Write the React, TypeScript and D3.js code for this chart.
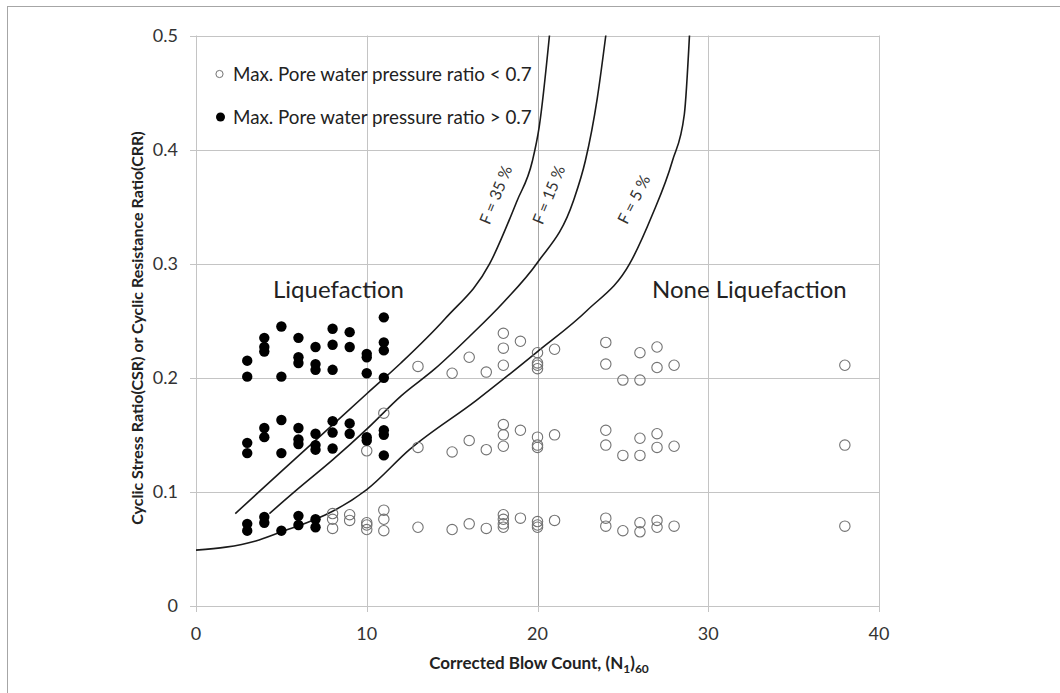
import React from "react";
import * as d3 from "d3";

// open circles: max. pore water pressure ratio < 0.7  [N, CSR]
const lowRatio: [number, number][] = [
  [13, 0.21], [15, 0.204], [16, 0.218], [17, 0.205],
  [18, 0.239], [18, 0.226], [18, 0.211], [19, 0.232],
  [20, 0.222], [20, 0.213], [20, 0.211], [20, 0.208], [21, 0.225],
  [24, 0.231], [24, 0.212], [25, 0.198], [26, 0.222], [26, 0.198],
  [27, 0.227], [27, 0.209], [28, 0.211], [38, 0.211],
  [10, 0.136], [11, 0.169], [13, 0.139], [15, 0.135], [16, 0.145], [17, 0.137],
  [18, 0.159], [18, 0.15], [18, 0.14], [19, 0.154],
  [20, 0.148], [20, 0.141], [20, 0.139], [21, 0.15],
  [24, 0.154], [24, 0.141], [25, 0.132], [26, 0.147], [26, 0.132],
  [27, 0.151], [27, 0.139], [28, 0.14], [38, 0.141],
  [8, 0.081], [8, 0.076], [8, 0.068], [9, 0.08], [9, 0.075],
  [10, 0.073], [10, 0.071], [10, 0.067], [11, 0.084], [11, 0.076], [11, 0.066],
  [13, 0.069], [15, 0.067], [16, 0.072], [17, 0.068],
  [18, 0.08], [18, 0.076], [18, 0.072], [18, 0.069], [19, 0.077],
  [20, 0.074], [20, 0.071], [20, 0.069], [21, 0.075],
  [24, 0.077], [24, 0.07], [25, 0.066], [26, 0.073], [26, 0.065],
  [27, 0.075], [27, 0.069], [28, 0.07], [38, 0.07],
];

// filled circles: max. pore water pressure ratio > 0.7
const highRatio: [number, number][] = [
  [3, 0.215], [3, 0.201], [3, 0.143], [3, 0.134], [3, 0.072], [3, 0.066],
  [4, 0.235], [4, 0.227], [4, 0.223], [4, 0.156], [4, 0.148], [4, 0.078], [4, 0.073],
  [5, 0.245], [5, 0.201], [5, 0.163], [5, 0.134], [5, 0.066],
  [6, 0.235], [6, 0.218], [6, 0.213], [6, 0.156], [6, 0.146], [6, 0.142], [6, 0.079], [6, 0.071],
  [7, 0.227], [7, 0.212], [7, 0.207], [7, 0.151], [7, 0.141], [7, 0.137], [7, 0.076], [7, 0.069],
  [8, 0.243], [8, 0.229], [8, 0.207], [8, 0.162], [8, 0.152], [8, 0.138],
  [9, 0.24], [9, 0.227], [9, 0.16], [9, 0.151],
  [10, 0.221], [10, 0.218], [10, 0.204], [10, 0.148], [10, 0.145],
  [11, 0.253], [11, 0.231], [11, 0.224], [11, 0.2], [11, 0.154], [11, 0.15], [11, 0.132],
];

// boundary curves
const curveF35: [number, number][] = [
  [2.3, 0.081], [5, 0.118], [7.5, 0.152], [10, 0.186], [12, 0.213], [14.6, 0.252],
  [17.2, 0.3], [18.8, 0.355], [19.7, 0.39], [20.1, 0.42], [20.7, 0.5],
];
const curveF15: [number, number][] = [
  [4.3, 0.081], [6, 0.103], [8, 0.128], [10, 0.155], [12, 0.184], [14, 0.208],
  [16, 0.236], [18, 0.266], [20, 0.301], [22.1, 0.355], [22.8, 0.39], [23.5, 0.445], [24, 0.5],
];
const curveF5: [number, number][] = [
  [0, 0.049], [3.5, 0.057], [5, 0.065], [7, 0.076], [8, 0.083], [10, 0.102],
  [12.5, 0.137], [16.4, 0.18], [20, 0.223], [22.9, 0.259], [25.4, 0.3], [26.7, 0.342],
  [27.9, 0.39], [28.6, 0.431], [28.9, 0.5],
];

const xTicks = [0, 10, 20, 30, 40];
const yTicks = [0, 0.1, 0.2, 0.3, 0.4, 0.5];

const font = "Lato, 'Open Sans', sans-serif";

export default function App() {
  const x = d3.scaleLinear().domain([0, 40]).range([196, 879]);
  const y = d3.scaleLinear().domain([0, 0.5]).range([606, 35.5]);

  const line = d3
    .line<[number, number]>()
    .x((d) => x(d[0]))
    .y((d) => y(d[1]))
    .curve(d3.curveMonotoneX);

  const grid = "#c4c4c4";

  return (
    <svg
      width={1060}
      height={693}
      style={{ position: "absolute", left: 0, top: 0, background: "#fff" }}
      fontFamily={font}
    >
      <rect x={7.5} y={6.5} width={1100} height={720} fill="#fff" stroke="#a6a6a6" />

      {/* grid */}
      {yTicks.slice(1).map((t) => (
        <line key={"gy" + t} x1={x(0)} x2={x(40)} y1={Math.round(y(t)) + 0.5} y2={Math.round(y(t)) + 0.5} stroke={grid} />
      ))}
      {xTicks.slice(1).map((t) => (
        <line key={"gx" + t} x1={Math.round(x(t)) + 0.5} x2={Math.round(x(t)) + 0.5} y1={y(0)} y2={y(0.5)} stroke={t === 20 ? "#a8a8a8" : grid} />
      ))}

      {/* axes */}
      <line x1={x(0)} x2={x(40)} y1={Math.round(y(0)) + 0.5} y2={Math.round(y(0)) + 0.5} stroke={grid} />
      <line x1={Math.round(x(0)) + 0.5} x2={Math.round(x(0)) + 0.5} y1={y(0)} y2={y(0.5)} stroke={grid} />
      {xTicks.map((t) => (
        <g key={"tx" + t}>
          <line x1={Math.round(x(t)) + 0.5} x2={Math.round(x(t)) + 0.5} y1={y(0)} y2={y(0) + 6} stroke={grid} />
          <text x={x(t)} y={640} textAnchor="middle" fontSize={18} fill="#333">
            {t}
          </text>
        </g>
      ))}
      {yTicks.map((t) => (
        <g key={"ty" + t}>
          <line x1={x(0) - 6} x2={x(0)} y1={Math.round(y(t)) + 0.5} y2={Math.round(y(t)) + 0.5} stroke={grid} />
          <text x={178} y={y(t)} dy="0.35em" textAnchor="end" fontSize={18} fill="#333">
            {t === 0 ? "0" : d3.format(".1f")(t)}
          </text>
        </g>
      ))}

      {/* curves */}
      {[curveF35, curveF15, curveF5].map((c, i) => (
        <path key={"c" + i} d={line(c) || ""} fill="none" stroke="#1a1a1a" strokeWidth={1.6} />
      ))}
      <text transform="translate(501,197) rotate(-68)" textAnchor="middle" fontSize={16} fill="#333">F = 35 %</text>
      <text transform="translate(554,197) rotate(-68)" textAnchor="middle" fontSize={16} fill="#333">F = 15 %</text>
      <text transform="translate(639,202) rotate(-63)" textAnchor="middle" fontSize={16} fill="#333">F = 5 %</text>

      {/* points */}
      {lowRatio.map((d, i) => (
        <circle key={"o" + i} cx={x(d[0])} cy={y(d[1])} r={5.2} fill="none" stroke="#737373" strokeWidth={1.1} />
      ))}
      {highRatio.map((d, i) => (
        <circle key={"f" + i} cx={x(d[0])} cy={y(d[1])} r={5.2} fill="#000" />
      ))}

      {/* region labels */}
      <text x={273} y={298} fontSize={24} fill="#222">Liquefaction</text>
      <text x={652} y={298} fontSize={24} fill="#222">None Liquefaction</text>

      {/* legend */}
      <circle cx={219.5} cy={74} r={3.6} fill="#fff" stroke="#737373" />
      <text x={233} y={81} fontSize={18.8} fill="#222">Max. Pore water pressure ratio &lt; 0.7</text>
      <circle cx={220.5} cy={117} r={4.5} fill="#000" />
      <text x={233} y={124} fontSize={18.8} fill="#222">Max. Pore water pressure ratio &gt; 0.7</text>

      {/* axis titles */}
      <text transform="translate(143,328) rotate(-90)" textAnchor="middle" fontSize={16} fontWeight="bold" fill="#222">
        Cyclic Stress Ratio(CSR) or Cyclic Resistance Ratio(CRR)
      </text>
      <text x={539} y={669} textAnchor="middle" fontSize={17} fontWeight="bold" fill="#222">
        Corrected Blow Count, (N<tspan fontSize={12} dy={4}>1</tspan>
        <tspan dy={-4}>)</tspan>
        <tspan fontSize={12} dy={4}>60</tspan>
      </text>
    </svg>
  );
}
